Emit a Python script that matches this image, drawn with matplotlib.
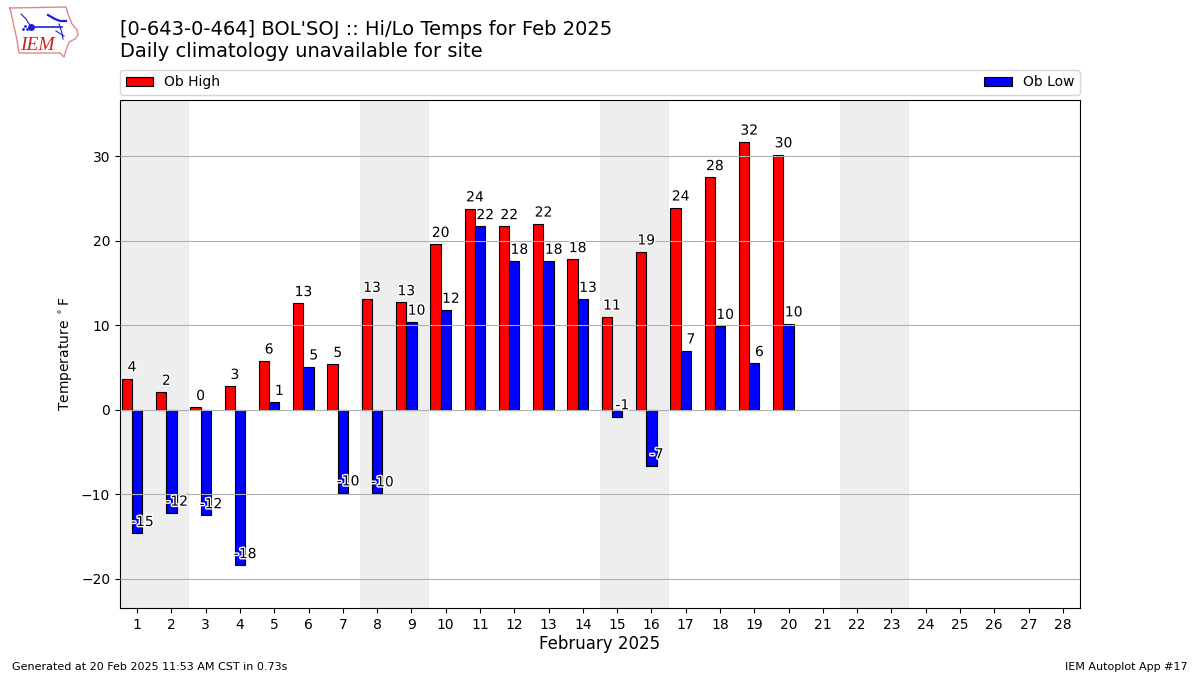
import numpy as np
import matplotlib
matplotlib.use('Agg')
import matplotlib.pyplot as plt
import matplotlib.patheffects as PathEffects

# Daily obs
days = list(range(1, 21))
highs = [3.7, 2.1, 0.3, 2.8, 5.8, 12.6, 5.4, 13.1, 12.7, 19.6,
         23.8, 21.7, 22.0, 17.8, 11.0, 18.7, 23.9, 27.5, 31.7, 30.2]
lows = [-14.6, -12.2, -12.5, -18.4, 0.9, 5.1, -9.8, -9.9, 10.4, 11.8,
        21.7, 17.6, 17.6, 13.1, -0.8, -6.6, 7.0, 9.9, 5.5, 10.2]
high_labels = [4, 2, 0, 3, 6, 13, 5, 13, 13, 20, 24, 22, 22, 18, 11, 19, 24, 28, 32, 30]
low_labels = [-15, -12, -12, -18, 1, 5, -10, -10, 10, 12, 22, 18, 18, 13, -1, -7, 7, 10, 6, 10]
weekends = [(0.5, 2.5), (7.5, 9.5), (14.5, 16.5), (21.5, 23.5)]
xticks = list(range(1, 29))
yticks = [-20, -10, 0, 10, 20, 30]

fig = plt.figure(figsize=(12, 6.75), dpi=100)
ax = fig.add_axes([120 / 1200, 1 - 608 / 675, 960 / 1200, 508 / 675])

for start, end in weekends:
    ax.axvspan(start, end, color='#eeeeee', zorder=1, lw=0)

x = np.array(days)
ax.bar(x - 0.3, highs, width=0.3, color='r', edgecolor='k', linewidth=0.8,
       label='Ob High', zorder=2)
ax.bar(x, lows, width=0.3, color='b', edgecolor='k', linewidth=0.8,
       label='Ob Low', zorder=2)

# value labels with a white halo
for i, day in enumerate(days):
    ax.text(day - 0.15, highs[i] + 0.5, str(high_labels[i]), ha='center', va='bottom',
            fontsize=10, zorder=5,
            path_effects=[PathEffects.withStroke(linewidth=2, foreground='white')])
    ax.text(day + 0.15, lows[i] + 0.5, str(low_labels[i]), ha='center', va='bottom',
            fontsize=10, zorder=5,
            path_effects=[PathEffects.withStroke(linewidth=2, foreground='white')])

ax.set_xlim(0.5, 28.5)
ax.set_ylim(-23.45, 36.65)
ax.set_xticks(xticks)
ax.set_yticks(yticks)
ax.tick_params(labelsize=10)
ax.yaxis.grid(True, color='#b0b0b0', linewidth=0.8, zorder=3)
ax.set_axisbelow(False)
for line in ax.get_xgridlines():
    line.set_visible(False)
ax.set_xlabel('February 2025', fontsize=12, labelpad=2.6)
ax.set_ylabel(r'Temperature $^\circ$F', fontsize=10)

ax.legend(loc='lower left', bbox_to_anchor=(0, 1.01, 1, 0.05), mode='expand',
          ncol=2, borderaxespad=0, fontsize=10)

fig.text(120 / 1200, 1 - 38.9 / 675, "[0-643-0-464] BOL'SOJ :: Hi/Lo Temps for Feb 2025",
         fontsize=14, va='bottom')
fig.text(120 / 1200, 1 - 61 / 675, 'Daily climatology unavailable for site',
         fontsize=14, va='bottom')
fig.text(12 / 1200, 1 - 666.5 / 675, 'Generated at 20 Feb 2025 11:53 AM CST in 0.73s',
         fontsize=8, va='center')
fig.text(1188 / 1200, 1 - 666.5 / 675, 'IEM Autoplot App #17',
         fontsize=8, va='center', ha='right')

# rough redraw of the IEM logo, in pixel coordinates
logo = fig.add_axes([0, 0, 1, 1], zorder=10)
logo.set_xlim(0, 1200)
logo.set_ylim(675, 0)
logo.axis('off')
logo.patch.set_alpha(0)
outline_x = [10, 66, 68, 72, 77, 78, 75, 69, 66, 64, 60, 19, 17, 10]
outline_y = [8, 7, 14, 24, 30, 35, 39, 42, 50, 57, 53, 53, 40, 8]
logo.plot(outline_x, outline_y, color='#e08888', lw=1)
logo.plot([31, 62], [27, 27], color='#2020d0', lw=1.2)
logo.plot([21, 26, 31], [14, 19, 27], color='#2020d0', lw=0.8)
logo.plot([48, 55, 60, 66], [15, 19, 21, 21], color='#2020d0', lw=1.6)
logo.plot([59, 62, 63], [24, 33, 39], color='#2020d0', lw=0.8)
logo.plot([56, 64], [31, 36], color='#2020d0', lw=0.8)
logo.plot([31], [27], 'o', color='#2020d0', ms=4)
logo.plot([23, 25, 27], [29, 26, 29], '.', color='#2020d0', ms=2)
logo.text(20, 46, 'IEM', color='#d02020', fontsize=14, style='italic',
          family='Liberation Serif', va='center')

fig.savefig('out.png', dpi=100)
plt.close()
